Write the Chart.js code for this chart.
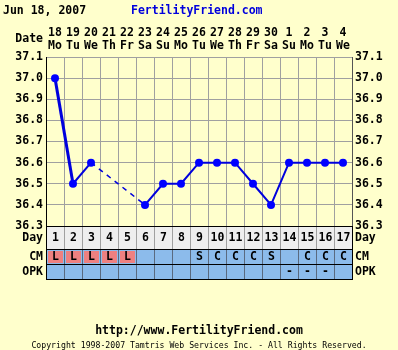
<!DOCTYPE html>
<html>
<head>
<meta charset="utf-8">
<script src="https://cdn.jsdelivr.net/npm/chart.js@4.4.1/dist/chart.umd.min.js"></script>
<style>
  html, body { margin: 0; padding: 0; background: #FFFFCC; }
  canvas { display: block; }
</style>
</head>
<body>
<canvas id="c" width="398" height="350"></canvas>
<script>
// ---- data ----
const chartDate = 'Jun 18, 2007';
const siteName = 'FertilityFriend.com';
const cycleDays = ['1','2','3','4','5','6','7','8','9','10','11','12','13','14','15','16','17'];
const dateNums = ['18','19','20','21','22','23','24','25','26','27','28','29','30','1','2','3','4'];
const weekdays = ['Mo','Tu','We','Th','Fr','Sa','Su','Mo','Tu','We','Th','Fr','Sa','Su','Mo','Tu','We'];
const temps = [37.0, 36.5, 36.6, null, null, 36.4, 36.5, 36.5, 36.6, 36.6, 36.6, 36.5, 36.4, 36.6, 36.6, 36.6, 36.6];
const cmValues = ['L','L','L','L','L','','','','S','C','C','C','S','','C','C','C'];
const opkValues = ['','','','','','','','','','','','','','-','-','-',''];
const tempMin = 36.3, tempMax = 37.1, tempStep = 0.1;
const footerUrl = 'http://www.FertilityFriend.com';
const footerCopy = 'Copyright 1998-2007 Tamtris Web Services Inc. - All Rights Reserved.';

const BG = '#FFFFCC';
const GRID = '#A0A0A0';
const MONO = '"DejaVu Sans Mono", "Liberation Mono", monospace';
const boldFont = { family: MONO, size: 11.5, weight: 'bold' };

const tablePlugin = {
  id: 'ffTable',
  beforeDraw(chart) {
    const ctx = chart.ctx;
    ctx.save();
    ctx.fillStyle = BG;
    ctx.fillRect(0, 0, chart.width, chart.height);
    ctx.restore();
  },
  afterDraw(chart) {
    const ctx = chart.ctx;
    const xs = chart.scales.x;
    const area = chart.chartArea;
    const L = area.left, R = area.right;
    const colW = (R - L) / cycleDays.length;
    const top = Math.round(area.bottom);
    const dayBottom = top + 23, cmBottom = dayBottom + 15, opkBottom = cmBottom + 15;
    ctx.save();
    // header
    ctx.font = 'bold 11.5px ' + MONO;
    ctx.textBaseline = 'middle';
    ctx.textAlign = 'left';
    ctx.fillStyle = '#000';
    ctx.fillText(chartDate, 3, 11);
    ctx.fillStyle = '#0000DD';
    ctx.fillText(siteName, 131, 11);
    ctx.fillStyle = '#000';
    ctx.textAlign = 'right';
    ctx.fillText('Date', L - 3, 39);

    // day row
    ctx.fillStyle = '#EEEEEE';
    ctx.fillRect(L, top, R - L, dayBottom - top);
    // CM / OPK rows
    ctx.fillStyle = '#8CBBEB';
    ctx.fillRect(L, dayBottom, R - L, opkBottom - dayBottom);
    cmValues.forEach((v, i) => {
      if (v === 'L') {
        const x0 = Math.round(xs.getPixelForValue(i) - colW / 2);
        ctx.fillStyle = '#EE8080';
        ctx.fillRect(x0 + 2, dayBottom + 2, colW - 3, cmBottom - dayBottom - 3);
      }
    });
    // vertical separators
    for (let k = 1; k < cycleDays.length; k++) {
      const x = Math.round(L + k * colW) + 0.5;
      ctx.strokeStyle = GRID;
      ctx.lineWidth = 1;
      ctx.beginPath(); ctx.moveTo(x, top); ctx.lineTo(x, dayBottom); ctx.stroke();
      ctx.strokeStyle = '#5A6A80';
      ctx.beginPath(); ctx.moveTo(x, dayBottom); ctx.lineTo(x, opkBottom); ctx.stroke();
    }
    // horizontal lines and border
    ctx.strokeStyle = '#000';
    ctx.lineWidth = 1;
    [top, dayBottom, cmBottom, opkBottom].forEach(y => {
      ctx.beginPath(); ctx.moveTo(L, y + 0.5); ctx.lineTo(R + 1, y + 0.5); ctx.stroke();
    });
    ctx.beginPath(); ctx.moveTo(Math.round(L) + 0.5, top); ctx.lineTo(Math.round(L) + 0.5, opkBottom + 1); ctx.stroke();
    ctx.beginPath(); ctx.moveTo(Math.round(R) + 0.5, top); ctx.lineTo(Math.round(R) + 0.5, opkBottom + 1); ctx.stroke();

    // texts in cells
    ctx.font = 'bold 11.5px ' + MONO;
    ctx.textAlign = 'center';
    ctx.fillStyle = '#000';
    cycleDays.forEach((d, i) => {
      const x = xs.getPixelForValue(i);
      ctx.fillText(d, x + 0.5, top + 12);
      if (cmValues[i]) ctx.fillText(cmValues[i], x + 0.5, dayBottom + 8);
      if (opkValues[i]) ctx.fillText(opkValues[i], x + 0.5, cmBottom + 8);
    });
    // row labels
    ctx.textAlign = 'right';
    ctx.fillText('Day', L - 3, top + 12);
    ctx.fillText('CM', L - 3, dayBottom + 8);
    ctx.fillText('OPK', L - 3, cmBottom + 8);
    ctx.textAlign = 'left';
    ctx.fillText('Day', R + 3, top + 12);
    ctx.fillText('CM', R + 3, dayBottom + 8);
    ctx.fillText('OPK', R + 3, cmBottom + 8);

    // footer
    ctx.textAlign = 'center';
    ctx.fillText(footerUrl, 199, 331);
    ctx.font = '8.2px ' + MONO;
    ctx.fillText(footerCopy, 199, 346);
    ctx.restore();
  }
};

new Chart(document.getElementById('c'), {
  type: 'line',
  data: {
    labels: cycleDays,
    datasets: [{
      data: temps,
      xAxisID: 'x',
      yAxisID: 'y',
      spanGaps: true,
      borderColor: '#0000DD',
      backgroundColor: '#0000FF',
      borderWidth: 2,
      pointRadius: 4,
      pointBorderWidth: 0,
      pointBackgroundColor: '#0000FF',
      tension: 0,
      segment: {
        borderWidth: c => (c.p0.skip || c.p1.skip) ? 1.5 : (c.p0DataIndex === 0 ? 3 : 2),
        borderDash: c => (c.p0.skip || c.p1.skip) ? [5, 5] : undefined
      }
    }]
  },
  options: {
    responsive: false,
    animation: false,
    devicePixelRatio: 1,
    layout: { padding: { left: 0, right: 0, top: 0, bottom: 124 } },
    plugins: { legend: { display: false }, tooltip: { enabled: false }, title: { display: false } },
    scales: {
      x: {
        type: 'category',
        position: 'bottom',
        offset: true,
        grid: { offset: true, color: GRID, lineWidth: 1, drawTicks: false },
        border: { color: '#000', width: 1 },
        ticks: { display: false },
        afterFit: s => { s.height = 0; }
      },
      x2: {
        type: 'category',
        position: 'top',
        offset: true,
        labels: dateNums.map((d, i) => [d, weekdays[i]]),
        grid: { display: false, drawTicks: false },
        border: { display: false },
        ticks: { color: '#000', font: Object.assign({}, boldFont, { lineHeight: 12.5 / 11.5 }), padding: 5, maxRotation: 0, autoSkip: false },
        afterFit: s => { s.height = 57; }
      },
      y: {
        position: 'left',
        min: tempMin, max: tempMax,
        grid: { color: GRID, lineWidth: 1, drawTicks: false },
        border: { color: '#000', width: 1 },
        ticks: { stepSize: tempStep, color: '#000', font: boldFont, padding: 3, callback: v => Number(v).toFixed(1) },
        afterFit: s => { s.width = 46; }
      },
      y2: {
        position: 'right',
        min: tempMin, max: tempMax,
        grid: { display: false, drawTicks: false },
        border: { color: '#555', width: 1 },
        ticks: { stepSize: tempStep, color: '#000', font: boldFont, padding: 3, callback: v => Number(v).toFixed(1) },
        afterFit: s => { s.width = 46; }
      }
    }
  },
  plugins: [tablePlugin]
});
</script>
</body>
</html>
